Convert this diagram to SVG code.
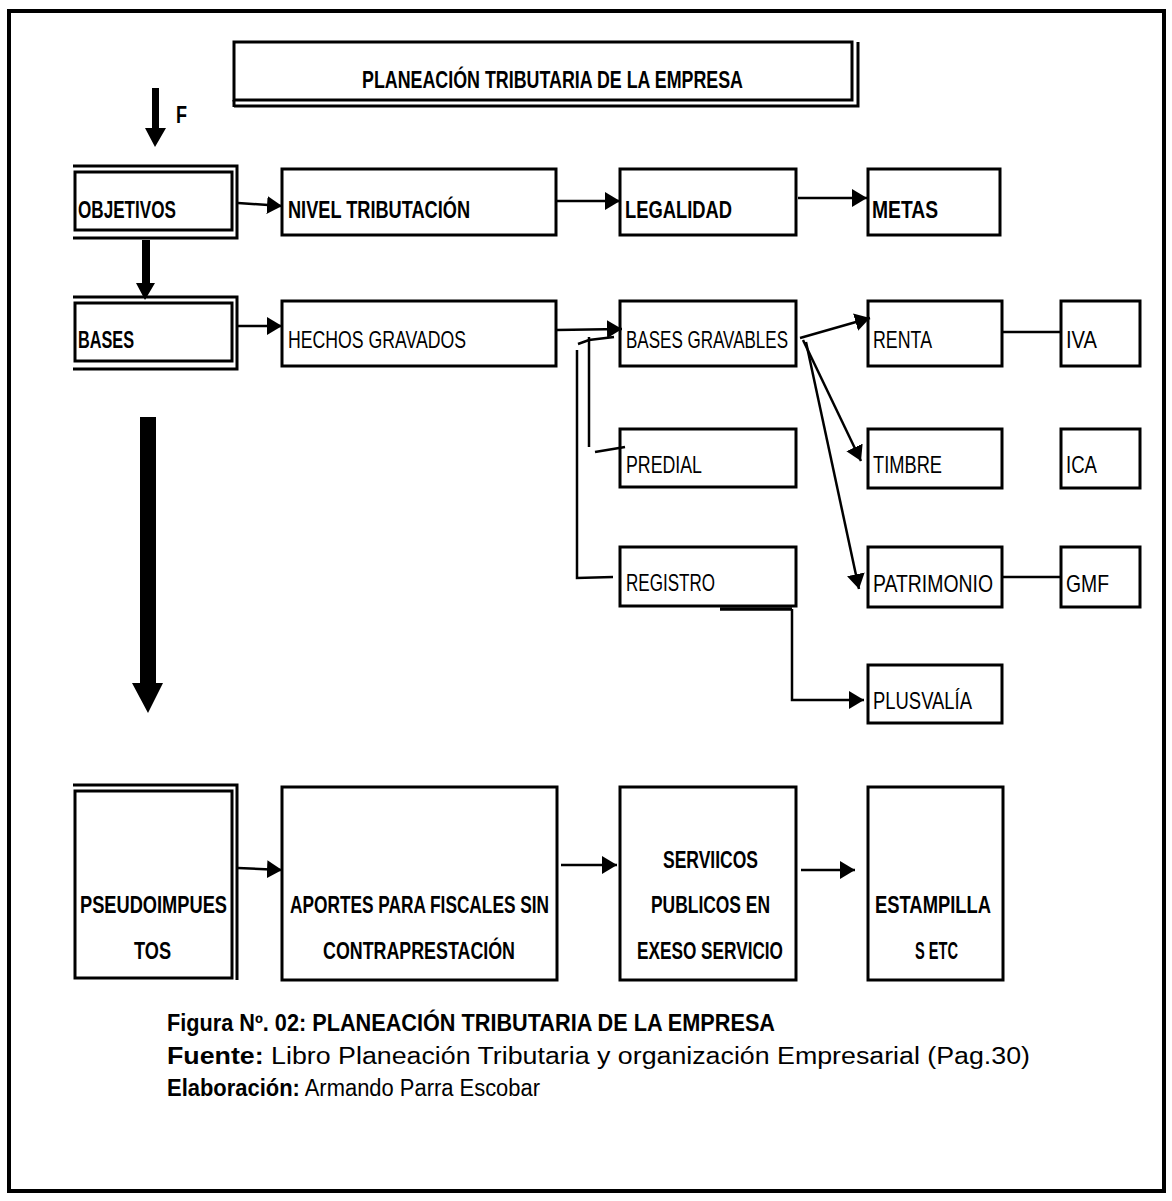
<svg xmlns="http://www.w3.org/2000/svg" width="1172" height="1201" viewBox="0 0 1172 1201">
<style>
.box{fill:#fff;stroke:#000;stroke-width:3}
.dl{stroke:#000;stroke-width:3;fill:none}
.t{font-family:"Liberation Sans",Arial,sans-serif;font-size:24px;fill:#000}
.b{font-weight:bold}
.c{stroke:#000;stroke-width:2.5;fill:none}
.cap{font-family:"Liberation Sans",Arial,sans-serif;font-size:23px;fill:#000}
</style>
<defs>
<marker id="ah" markerUnits="userSpaceOnUse" markerWidth="15" markerHeight="18" refX="15" refY="9" orient="auto">
<path d="M0,0 L15,9 L0,18 z" fill="#000"/>
</marker>
</defs>
<rect x="0" y="0" width="1172" height="1201" fill="#fff"/>
<rect x="9" y="11" width="1155" height="1180" fill="none" stroke="#000" stroke-width="4"/>

<g id="title">
<rect class="box" x="234" y="42" width="618" height="58"/>
<path class="dl" d="M234,106 H858 V42"/>
<path class="dl" d="M234,100 V107"/>
<text class="t b" x="362" y="88" font-size="25" textLength="381" lengthAdjust="spacingAndGlyphs">PLANEACIÓN TRIBUTARIA DE LA EMPRESA</text>
</g>

<g id="f-arrow">
<polygon points="152,88 159,88 159,128 166,128 155,147 145,128 152,128" fill="#000"/>
<text class="t b" x="176" y="123" font-size="25" textLength="11" lengthAdjust="spacingAndGlyphs">F</text>
</g>

<g id="objetivos">
<rect class="box" x="75" y="172" width="157" height="58"/>
<path class="dl" d="M73,166 H237 V238 H73"/>
<text class="t b" x="78" y="218" textLength="98" lengthAdjust="spacingAndGlyphs">OBJETIVOS</text>
</g>
<g id="nivel">
<rect class="box" x="282" y="169" width="274" height="66"/>
<text class="t b" x="288" y="218" textLength="182" lengthAdjust="spacingAndGlyphs">NIVEL TRIBUTACIÓN</text>
</g>
<g id="legalidad">
<rect class="box" x="620" y="169" width="176" height="66"/>
<text class="t b" x="625" y="218" textLength="107" lengthAdjust="spacingAndGlyphs">LEGALIDAD</text>
</g>
<g id="metas">
<rect class="box" x="868" y="169" width="132" height="66"/>
<text class="t b" x="872" y="218" textLength="66" lengthAdjust="spacingAndGlyphs">METAS</text>
</g>

<g id="obj-bases-arrow">
<polygon points="142,240 150,240 150,283 155,283 145,300 136,283 142,283" fill="#000"/>
</g>

<g id="bases">
<rect class="box" x="75" y="303" width="157" height="58"/>
<path class="dl" d="M73,297 H237 V369 H73"/>
<text class="t b" x="78" y="348" textLength="56" lengthAdjust="spacingAndGlyphs">BASES</text>
</g>
<g id="hechos">
<rect class="box" x="282" y="301" width="274" height="65"/>
<text class="t" x="288" y="348" textLength="178" lengthAdjust="spacingAndGlyphs">HECHOS GRAVADOS</text>
</g>
<g id="basesgravables">
<rect class="box" x="620" y="301" width="176" height="65"/>
<text class="t" x="626" y="348" textLength="162" lengthAdjust="spacingAndGlyphs">BASES GRAVABLES</text>
</g>
<g id="predial">
<rect class="box" x="620" y="429" width="176" height="58"/>
<text class="t" x="626" y="473" textLength="76" lengthAdjust="spacingAndGlyphs">PREDIAL</text>
</g>
<g id="registro">
<rect class="box" x="620" y="547" width="176" height="59"/>
<text class="t" x="626" y="591" textLength="89" lengthAdjust="spacingAndGlyphs">REGISTRO</text>
</g>
<g id="renta">
<rect class="box" x="868" y="301" width="134" height="65"/>
<text class="t" x="873" y="348" textLength="59" lengthAdjust="spacingAndGlyphs">RENTA</text>
</g>
<g id="iva">
<rect class="box" x="1061" y="301" width="79" height="65"/>
<text class="t" x="1066" y="348" textLength="31" lengthAdjust="spacingAndGlyphs">IVA</text>
</g>
<g id="timbre">
<rect class="box" x="868" y="429" width="134" height="59"/>
<text class="t" x="873" y="473" textLength="69" lengthAdjust="spacingAndGlyphs">TIMBRE</text>
</g>
<g id="ica">
<rect class="box" x="1061" y="429" width="79" height="59"/>
<text class="t" x="1066" y="473" textLength="31" lengthAdjust="spacingAndGlyphs">ICA</text>
</g>
<g id="patrimonio">
<rect class="box" x="868" y="547" width="134" height="60"/>
<text class="t" x="873" y="592" textLength="120" lengthAdjust="spacingAndGlyphs">PATRIMONIO</text>
</g>
<g id="gmf">
<rect class="box" x="1061" y="547" width="79" height="60"/>
<text class="t" x="1066" y="592" textLength="43" lengthAdjust="spacingAndGlyphs">GMF</text>
</g>
<g id="plusvalia">
<rect class="box" x="868" y="665" width="134" height="58"/>
<text class="t" x="873" y="709" textLength="99" lengthAdjust="spacingAndGlyphs">PLUSVALÍA</text>
</g>

<g id="big-arrow">
<polygon points="140,417 156,417 156,683 163,683 148,713 132,683 140,683" fill="#000"/>
</g>

<g id="pseudo">
<rect class="box" x="75" y="791" width="157" height="187"/>
<path class="dl" d="M73,785 H237 V980"/>
<text class="t b" x="80" y="913" textLength="147" lengthAdjust="spacingAndGlyphs">PSEUDOIMPUES</text>
<text class="t b" x="134" y="959" textLength="37" lengthAdjust="spacingAndGlyphs">TOS</text>
</g>
<g id="aportes">
<rect class="box" x="282" y="787" width="275" height="193"/>
<text class="t b" x="290" y="913" textLength="259" lengthAdjust="spacingAndGlyphs">APORTES PARA FISCALES SIN</text>
<text class="t b" x="323" y="959" textLength="192" lengthAdjust="spacingAndGlyphs">CONTRAPRESTACIÓN</text>
</g>
<g id="servicios">
<rect class="box" x="620" y="787" width="176" height="193"/>
<text class="t b" x="663" y="868" textLength="95" lengthAdjust="spacingAndGlyphs">SERVIICOS</text>
<text class="t b" x="651" y="913" textLength="119" lengthAdjust="spacingAndGlyphs">PUBLICOS EN</text>
<text class="t b" x="637" y="959" textLength="146" lengthAdjust="spacingAndGlyphs">EXESO SERVICIO</text>
</g>
<g id="estampillas">
<rect class="box" x="868" y="787" width="135" height="193"/>
<text class="t b" x="875" y="913" textLength="116" lengthAdjust="spacingAndGlyphs">ESTAMPILLA</text>
<text class="t b" x="915" y="959" textLength="43" lengthAdjust="spacingAndGlyphs">S ETC</text>
</g>

<g id="connectors">
<line class="c" x1="238" y1="203" x2="282" y2="206" marker-end="url(#ah)"/>
<line class="c" x1="556" y1="201" x2="620" y2="201" marker-end="url(#ah)"/>
<line class="c" x1="798" y1="198" x2="867" y2="198" marker-end="url(#ah)"/>
<line class="c" x1="238" y1="326" x2="282" y2="326" marker-end="url(#ah)"/>
<line class="c" x1="556" y1="330" x2="622" y2="329" marker-end="url(#ah)"/>
<polyline class="c" points="578,344 589,340 614,337"/>
<line class="c" x1="589" y1="337" x2="589" y2="447"/>
<line class="c" x1="595" y1="452" x2="625" y2="447" stroke-width="3"/>
<polyline class="c" points="613,577 577,578 577,350"/>
<line class="c" x1="800" y1="338" x2="870" y2="318" marker-end="url(#ah)"/>
<line class="c" x1="803" y1="340" x2="861" y2="461" marker-end="url(#ah)"/>
<line class="c" x1="806" y1="342" x2="859" y2="589" marker-end="url(#ah)"/>
<line x1="720" y1="609" x2="792" y2="609" stroke="#000" stroke-width="3.5"/>
<polyline class="c" points="792,609 792,700 864,700" marker-end="url(#ah)"/>
<line class="c" x1="1002" y1="332" x2="1061" y2="332"/>
<line class="c" x1="1002" y1="577" x2="1061" y2="577"/>
<line class="c" x1="238" y1="868" x2="282" y2="870" marker-end="url(#ah)"/>
<line class="c" x1="561" y1="865" x2="617" y2="865" marker-end="url(#ah)"/>
<line class="c" x1="801" y1="870" x2="855" y2="870" marker-end="url(#ah)"/>
</g>

<g id="caption">
<text class="cap b" x="167" y="1031" textLength="608" lengthAdjust="spacingAndGlyphs">Figura Nº. 02: PLANEACIÓN TRIBUTARIA DE LA EMPRESA</text>
<text class="cap" x="167" y="1064" textLength="863" lengthAdjust="spacingAndGlyphs"><tspan font-weight="bold">Fuente:</tspan> Libro Planeación Tributaria y organización Empresarial (Pag.30)</text>
<text class="cap" x="167" y="1096" textLength="373" lengthAdjust="spacingAndGlyphs"><tspan font-weight="bold">Elaboración:</tspan> Armando Parra Escobar</text>
</g>
</svg>
